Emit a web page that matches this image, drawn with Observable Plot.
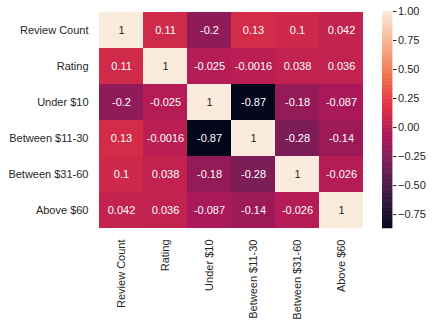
<!DOCTYPE html>
<html>
<head>
<meta charset="utf-8">
<script src="https://cdn.jsdelivr.net/npm/d3@7"></script>
<script src="https://cdn.jsdelivr.net/npm/@observablehq/plot@0.6"></script>
<style>
  body { margin: 0; background: #fff; }
  #wrap { position: relative; width: 436px; height: 325px; font-family: "Liberation Sans", Arial, sans-serif; }
  #wrap svg { position: absolute; top: 0; background: transparent; }
</style>
</head>
<body>
<div id="wrap"></div>
<script>
const labels = ["Review Count", "Rating", "Under $10", "Between $11-30", "Between $31-60", "Above $60"];
const rowReviewCount = [1, 0.11, -0.2, 0.13, 0.1, 0.042];
const rowRating      = [0.11, 1, -0.025, -0.0016, 0.038, 0.036];
const rowUnder10     = [-0.2, -0.025, 1, -0.87, -0.18, -0.087];
const rowB11_30      = [0.13, -0.0016, -0.87, 1, -0.28, -0.14];
const rowB31_60      = [0.1, 0.038, -0.18, -0.28, 1, -0.026];
const rowAbove60     = [0.042, 0.036, -0.087, -0.14, -0.026, 1];
const matrix = [rowReviewCount, rowRating, rowUnder10, rowB11_30, rowB31_60, rowAbove60];
const colorbarTicks = [-0.75, -0.5, -0.25, 0, 0.25, 0.5, 0.75, 1];

const vmin = -0.87, vmax = 1;
const rocket = ["#03051a", "#35193e", "#701f57", "#ad1759", "#e13342", "#f37651", "#f6b48f", "#faebdd"];
const stops = rocket.map((_, i) => i === 0 ? vmin : i === 7 ? vmax : vmin + (vmax - vmin) * i / 7);
const colorScale = {type: "linear", domain: stops, range: rocket, interpolate: "rgb", clamp: true};

const cells = [];
matrix.forEach((row, i) => row.forEach((v, j) => cells.push({row: labels[i], col: labels[j], v})));

const textColor = "#262626";
const lum = (c) => { const r = d3.rgb(c); const f = x => { x /= 255; return x <= 0.03928 ? x / 12.92 : Math.pow((x + 0.055) / 1.055, 2.4); }; return 0.2126 * f(r.r) + 0.7152 * f(r.g) + 0.0722 * f(r.b); };
const cfun = d3.scaleLinear().domain(stops).range(rocket).interpolate(d3.interpolateRgb).clamp(true);

const main = Plot.plot({
  width: 370, height: 325,
  marginLeft: 97, marginRight: 5, marginTop: 11, marginBottom: 97,
  style: {fontFamily: "Liberation Sans, Arial, sans-serif", fontSize: "11px", color: textColor, background: "transparent"},
  x: {domain: labels, padding: 0, label: null},
  y: {domain: labels, padding: 0, label: null},
  color: colorScale,
  marks: [
    Plot.cell(cells, {x: "col", y: "row", fill: "v"}),
    Plot.text(cells, {x: "col", y: "row", text: d => String(d.v), fontSize: 11,
      fill: d => lum(cfun(d.v)) > 0.408 ? textColor : "#ffffff"}),
    Plot.axisX({anchor: "bottom", tickSize: 0, tickPadding: 11, tickRotate: -90, label: null, fontSize: 11}),
    Plot.axisY({anchor: "left", tickSize: 0, tickPadding: 9, label: null, fontSize: 11})
  ]
});

const bar = [];
const step = 0.005;
for (let y = vmin; y < vmax; y += step) bar.push({y1: y, y2: Math.min(vmax, y + step), m: y + step / 2});

const cbar = Plot.plot({
  width: 54, height: 325,
  marginLeft: 0, marginRight: 44, marginTop: 11, marginBottom: 97,
  style: {fontFamily: "Liberation Sans, Arial, sans-serif", fontSize: "11px", color: textColor, background: "transparent"},
  x: {domain: [0, 1], axis: null},
  y: {domain: [vmin, vmax], label: null},
  color: colorScale,
  marks: [
    Plot.rect(bar, {x1: 0, x2: 1, y1: "y1", y2: "y2", fill: "m", stroke: "m", strokeWidth: 0.5}),
    Plot.axisY({anchor: "right", ticks: colorbarTicks, tickSize: 3.5, tickPadding: 2, tickFormat: d3.format(".2f"), label: null, fontSize: 11})
  ]
});
cbar.style.left = "382px";

const wrap = document.getElementById("wrap");
main.style.left = "0px";
wrap.appendChild(main);
wrap.appendChild(cbar);
</script>
</body>
</html>
